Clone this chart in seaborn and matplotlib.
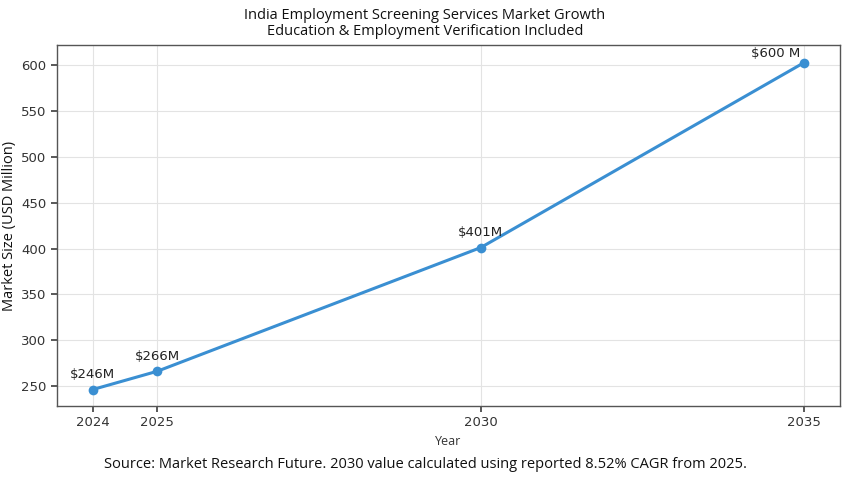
import matplotlib
matplotlib.use("Agg")
import matplotlib.pyplot as plt
import seaborn as sns
import pandas as pd

years = [2024, 2025, 2030, 2035]
values = [246, 266, 401, 603]
labels = ["$246M", "$266M", "$401M", "$600 M"]
xticks = [2024, 2025, 2030, 2035]
yticks = [250, 300, 350, 400, 450, 500, 550, 600]

sns.set_theme(style="whitegrid")
plt.rcParams['font.family'] = ['DejaVu Sans']

df = pd.DataFrame({"Year": years, "Value": values})

fig = plt.figure(figsize=(8.5, 4.8), dpi=100)
ax = fig.add_axes([0.067, 0.154, 0.921, 0.752])
color = "#3a8fd2"
sns.lineplot(data=df, x="Year", y="Value", ax=ax, color=color, linewidth=2.2,
             marker="o", markersize=7, markeredgewidth=0)

for x, y, t in zip(years, values, labels):
    if x == 2035:
        ax.annotate(t, (x, y), xytext=(-3, 2), textcoords="offset points",
                    ha="right", va="bottom", fontsize=9.5, color="#222222")
    else:
        ax.annotate(t, (x, y), xytext=(0, 6), textcoords="offset points",
                    ha="center", va="bottom", fontsize=9.5, color="#222222")

ax.set_xticks(xticks)
ax.set_yticks(yticks)
ax.set_xlim(2023.45, 2035.55)
ax.set_ylim(228, 622)
ax.tick_params(axis="both", labelsize=9.5, colors="#333333", length=4, color="#444444")
ax.tick_params(axis="both", which="both", bottom=True, left=True)
ax.grid(True, color="#e3e3e3", linewidth=0.8)
for s in ax.spines.values():
    s.set_color("#555555")
    s.set_linewidth(1.0)

ax.set_xlabel("Year", fontsize=9, color="#333333", family="Open Sans")
ax.set_ylabel("Market Size (USD Million)", fontsize=10.5, color="#111111",
              family="Open Sans", fontweight="medium", labelpad=3)

fig.text(0.5, 0.968, "India Employment Screening Services Market Growth",
         ha="center", va="center", fontsize=10.5, family="Open Sans",
         fontweight="medium", color="#111111")
fig.text(0.5, 0.935, "Education & Employment Verification Included",
         ha="center", va="center", fontsize=10.5, family="Open Sans",
         fontweight="medium", color="#111111")
fig.text(0.5, 0.032,
         "Source: Market Research Future. 2030 value calculated using reported 8.52% CAGR from 2025.",
         ha="center", va="center", fontsize=10.5, family="Open Sans",
         fontweight="medium", color="#111111")

fig.savefig("out.png", dpi=100, facecolor="white")
